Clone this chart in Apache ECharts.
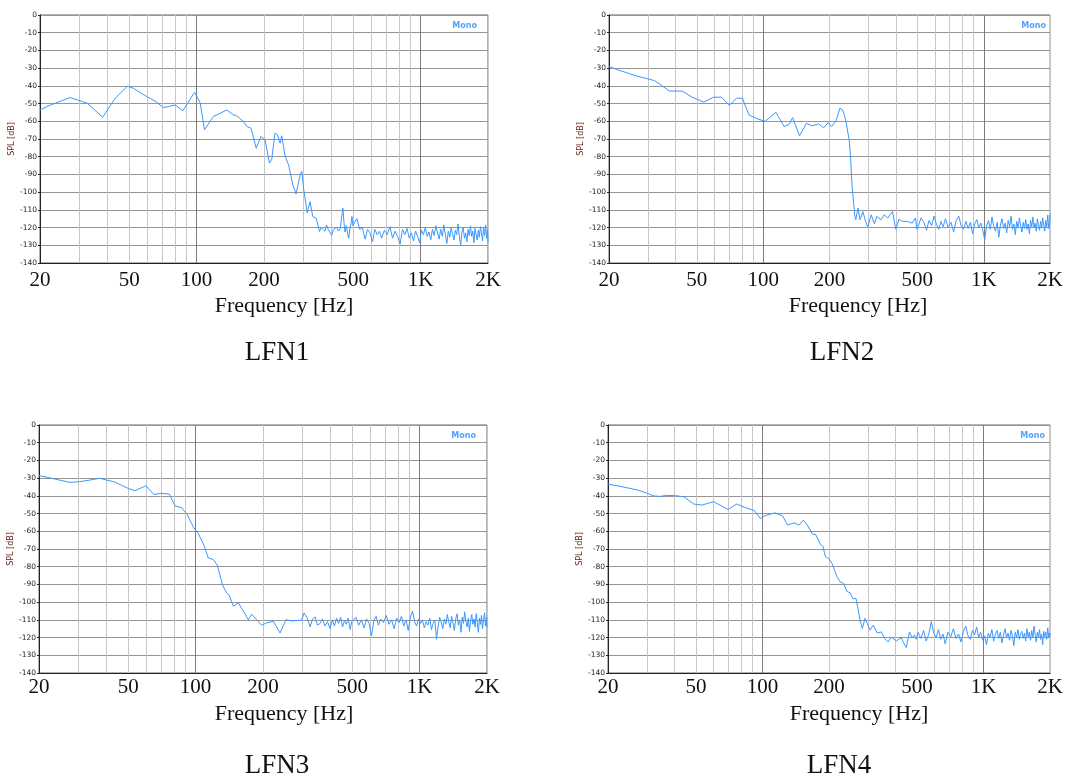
<!DOCTYPE html>
<html>
<head>
<meta charset="utf-8">
<title>LFN spectra</title>
<script src="https://cdn.jsdelivr.net/npm/echarts@6/dist/echarts.min.js"></script>
<style>
  html, body { margin: 0; padding: 0; background: #fff; }
  #main { width: 1066px; height: 778px; }
</style>
</head>
<body>
<div id="main"></div>
<script>
// [Hz, dB] up to ~500 Hz
var lfn1Head = [[20,-53.6],[21.8,-51.3],[27.2,-46.6],[32.5,-49.8],[38.1,-57.7],[43.3,-47],[49.1,-40.2],[52.3,-41.4],
  [59.9,-46],[65.9,-48.9],[71.1,-52.3],[80.2,-50.8],[86.8,-54.1],[97.9,-43.6],[103.7,-49.4],[108.5,-64.8],
  [118.9,-57.3],[127.4,-55.5],[136.4,-53.6],[146.2,-56.4],[151,-56.8],[161.9,-60.2],[168,-63],[175,-63.9],
  [184.6,-75.2],[193.8,-68.6],[202.3,-70.5],[211.5,-83.6],[216.6,-81.4],[224,-66.7],[230,-67.7],[236,-72.4],
  [240,-68.2],[248.7,-79.9],[257.5,-84.6],[269,-95.9],[278,-101.1],[290,-90.2],[295,-88.3],[301,-98.7],
  [312,-111.8],[321,-105.3],[330,-113.7],[342,-114.7],[354,-122.2],[360,-120],[367,-119.4],[374,-122],
  [380,-118.5],[387,-121],[394,-120],[401,-124.4],[408,-121],[415,-122],[422,-119.8],[430,-122],[438,-120.5],
  [445,-121],[450,-109],[455,-117],[460,-122.5],[466,-119],[472,-123],[478,-126],[484,-120],[489,-118],
  [494,-113.7],[499,-119]];
var lfn2Head = [[20,-29.1],[22,-31],[26.6,-34.4],[32.1,-37],[34.4,-39.5],[37.5,-42.9],[43,-43],[47.6,-46.4],
  [53.7,-49.2],[59.5,-46.4],[64.8,-46.4],[70.2,-51],[75.7,-47],[80.5,-47],[86.2,-56.4],[93.9,-58.6],
  [102,-60],[108.5,-57.3],[114.2,-54.9],[124.4,-63],[131,-61.7],[136,-57.9],[146.2,-68.2],[157,-61.1],
  [166.5,-62.6],[178.3,-61.5],[187.7,-63.7],[197.6,-60.7],[204.5,-63],[214,-59.6],[222.8,-52.6],[229,-53.6],
  [234.6,-57.3],[238.6,-62],[245.4,-70.5],[248.8,-80],[253,-97],[257.4,-107],[260,-113],[262.7,-115.6],
  [269,-109],[275,-115.6],[283.2,-111],[291.1,-116.5],[298,-119.7],[308.6,-112.8],[319.4,-117.9],
  [327.2,-113.7],[342.1,-115.6],[354,-112.8],[366.4,-114.7],[385.7,-110.9],[399.2,-120.9],[413,-115.2],
  [427.5,-116.5],[450,-116.5],[473.6,-117.5],[490.2,-114.6],[498,-121]];
var lfn3Head = [[20,-28.6],[22.3,-29.8],[27.4,-32.4],[30.4,-32],[33.7,-31.1],[37.3,-30.1],[43.6,-32.2],[50,-35.8],
  [53.6,-37.1],[60,-34.3],[65.1,-39.2],[70.4,-38.6],[76.3,-39],[80.9,-45.6],[86.6,-46.7],[92.1,-50.9],
  [97.6,-57.5],[102.8,-61.2],[109,-67.8],[113.9,-75],[119.9,-75.9],[125,-79.1],[132,-90.4],[137.6,-94.8],
  [141.4,-96.1],[147.4,-102.3],[155.2,-100.4],[163.4,-105],[172,-109.9],[178,-106.8],[187.4,-109.9],
  [197.2,-113],[207.6,-111.7],[222.5,-110.8],[238.3,-117.4],[253.4,-109.9],[268.7,-110.6],[297.8,-110.2],
  [305,-106.1],[315,-109],[324.5,-114],[333,-109.5],[341.7,-108.3],[350,-113],[359.7,-112],[368,-109.5],
  [378,-113.5],[388,-111],[398.8,-115],[408,-110],[417,-113.5],[426,-109],[435,-112],[444,-108.5],
  [453,-114],[462,-110.5],[471,-112.5],[480,-109],[490,-115.5],[498,-111]];
var lfn4Head = [[20,-33.4],[23.3,-34.9],[27.2,-36.7],[30.2,-38.6],[32.3,-40.1],[34.6,-40.3],[36.5,-39.7],[40.4,-39.9],
  [44,-40.5],[48.8,-44.6],[53.2,-45.2],[60,-43.3],[70,-47.7],[76.3,-44.6],[83.1,-46.5],[92.1,-48.4],
  [97.6,-52.8],[102.8,-51.1],[113.9,-49.6],[123.3,-51.4],[129.8,-56.5],[139,-55.2],[146.3,-56.5],[153,-53.7],
  [159.5,-56.5],[168,-61.6],[173.8,-61.8],[183,-67.5],[187.4,-68.4],[192.6,-74.4],[199.3,-75.4],[206.3,-78.2],
  [217.2,-85.7],[224.8,-88.6],[232.6,-89.5],[240.8,-93.9],[249.2,-94.8],[256.2,-98],[264.9,-98],[269.5,-102.7],
  [276.1,-110.2],[282.8,-114.9],[290.6,-109.2],[297.8,-112.1],[306.1,-115.8],[316.8,-113],[330.1,-117.4],
  [345.2,-116.8],[357.2,-120.6],[369.7,-122.5],[382.6,-119.7],[402.8,-121.9],[424.1,-120.2],[446.6,-125.7],
  [462.2,-116.8],[475,-120],[486.4,-118.5],[496,-121]];

// noise floor above 500 Hz, shared frequencies
var noiseFreq = [505,520,535,550,565,580,595,610,625,640,655,
  670,690,710,730,750,770,790,810,830,850,870,890,910,930,950,970,990,1010,1030,1050,1070,1090,1110,
  1130,1150,1170,1190,1210,1230,1250,1270,1290,1310,1330,1350,1370,1390,1410,1430,1450,1470,1490,1510,
  1530,1550,1570,1590,1610,1630,1650,1670,1690,1710,1730,1750,1770,1790,1810,1830,1850,1870,1890,1910,
  1930,1950,1970,1990,2000];
var lfn1Noise = [-117.5,-115,-121,-120,-126.5,-121,-123,-128,-121,-124,-122,
  -126,-121.5,-124,-119.5,-126,-122,-125,-129.5,-121,-124,
  -120.5,-126,-123,-127.5,-122,-125,-128.5,-121.5,-124,-120,
  -125,-122.5,-127,-121,-124.5,-119,-123,-126.5,-121,-125,
  -118.5,-124,-129,-122,-125.5,-120,-123.5,-127,-121.5,-124,
  -118,-125,-130,-122.5,-120,-126,-123,-128,-121,-124.5,
  -119,-125,-122,-128.5,-120.5,-124,-127,-121.5,-125.5,-119.5,
  -123,-127.5,-120,-124.5,-118.5,-126,-121,-128];
var lfn2Noise = [-119,-114.5,-117,-121.5,-116,-119,-113.5,-118,-121,-116.5,-119.5,
  -115,-120,-117,-122.5,-116,-113.5,-119,-121,-116.5,-120.5,
  -117,-123.5,-118,-115.5,-120,-117.5,-121.5,-127,-119,-116,
  -121,-114,-119.5,-122,-117,-125.5,-118.5,-115,-120.5,-117.5,
  -123,-116,-119.5,-113.5,-121,-118,-124,-116.5,-120,-114.5,
  -119,-122.5,-117,-120.5,-115.5,-121,-118,-123.5,-116,-119.5,
  -114,-120,-117.5,-122,-115,-119,-121.5,-116.5,-120,-114.5,
  -118.5,-122,-116,-119.5,-113,-120.5,-117,-112.5];
var lfn3Noise = [-112,-108.5,-113,-110,-114.5,-109.5,-112,-119,-110.5,-108,-113,
  -109.5,-111.5,-107.5,-112.5,-110,-115,-109,-111.5,-108,-113.5,
  -110,-116,-108.5,-105,-111,-113.5,-109.5,-112,-110,-114.5,
  -111,-113,-109,-115.5,-112,-110,-121,-113.5,-108.5,-111.5,
  -115,-109.5,-112.5,-107,-111,-114.5,-108,-112,-116,-109.5,
  -106.5,-113,-110,-117,-108.5,-112,-105.5,-111,-114,-109,
  -116.5,-110.5,-107,-112.5,-109.5,-114,-106.5,-111.5,-117,-109,
  -112.5,-107.5,-115,-110,-106,-113.5,-108.5,-114];
var lfn4Noise = [-117,-120.5,-116,-122,-118,-111,-117.5,-120,-115.5,-121,-118,
  -123.5,-117,-119.5,-115,-120.5,-118,-122.5,-116.5,-113.5,-119,
  -121,-116,-118.5,-114,-120,-117,-121.5,-119,-124,-117.5,
  -120,-115.5,-122,-118,-116,-120.5,-117,-123,-118.5,-115,
  -120,-117.5,-121.5,-116,-119,-124.5,-117,-120,-115.5,-121,
  -118,-116.5,-120.5,-117.5,-122,-115,-119.5,-117,-121.5,-116,
  -120,-113.5,-118.5,-122.5,-117,-120,-115.5,-121,-118,-124,
  -116.5,-119.5,-117,-121,-114.5,-120,-117.5,-119];

var titles = ['LFN1', 'LFN2', 'LFN3', 'LFN4'];
var heads = [lfn1Head, lfn2Head, lfn3Head, lfn4Head];
var noises = [lfn1Noise, lfn2Noise, lfn3Noise, lfn4Noise];

var labelFreqs = [20, 50, 100, 200, 500, 1000, 2000];
var labelTexts = ['20', '50', '100', '200', '500', '1K', '2K'];
var gridFreqs = [20, 30, 40, 50, 60, 70, 80, 90, 100, 200, 300, 400, 500, 600, 700, 800, 900, 1000, 2000];

// layout of the four plots
var boxes = [
  { left: 40, top: 15, tickY: 7, xlabelX: 284, xlabelY: 306, titleX: 277, titleY: 353 },
  { left: 609, top: 15, tickY: 7, xlabelX: 858, xlabelY: 306, titleX: 842, titleY: 353 },
  { left: 39, top: 425, tickY: 4, xlabelX: 284, xlabelY: 714, titleX: 277, titleY: 766 },
  { left: 608, top: 425, tickY: 4, xlabelX: 859, xlabelY: 714, titleX: 839, titleY: 766 }
];
var plotW = 448, plotH = 248;
var serif = '"Liberation Serif", "DejaVu Serif", serif';

var lg = function (f) { return Math.log10(f); };
var vColors = gridFreqs.map(function (f) {
  return (f === 100 || f === 1000) ? '#7c7c7c' : '#c6c6c6';
});

var chart = echarts.init(document.getElementById('main'));
var grids = [], xAxes = [], yAxes = [], series = [], graphics = [];

boxes.forEach(function (b, i) {
  grids.push({
    left: b.left, top: b.top, width: plotW, height: plotH,
    show: true, borderColor: '#666', borderWidth: 1, backgroundColor: '#fff'
  });
  xAxes.push({
    gridIndex: i,
    type: 'value',
    min: lg(20),
    max: lg(2000),
    axisLine: { show: true, onZero: false, lineStyle: { color: '#222', width: 1 } },
    axisTick: { show: false, customValues: gridFreqs.map(lg) },
    axisLabel: {
      customValues: labelFreqs.map(lg),
      margin: b.tickY,
      fontFamily: serif,
      fontSize: 21,
      color: '#111',
      formatter: function (v) {
        for (var k = 0; k < labelFreqs.length; k++) {
          if (Math.abs(lg(labelFreqs[k]) - v) < 1e-6) return labelTexts[k];
        }
        return '';
      }
    },
    splitLine: { show: true, lineStyle: { color: vColors, width: 1 } }
  });
  yAxes.push({
    gridIndex: i,
    type: 'value',
    min: -140,
    max: 0,
    interval: 10,
    name: 'SPL [dB]',
    nameLocation: 'middle',
    nameRotate: 90,
    nameGap: 16,
    nameTextStyle: { color: '#6a2418', fontSize: 8, fontFamily: '"DejaVu Sans", sans-serif' },
    axisLine: { show: true, lineStyle: { color: '#222', width: 1 } },
    axisTick: { show: true, length: 2, lineStyle: { color: '#222' } },
    axisLabel: { margin: 3, fontSize: 7.5, color: '#222', fontFamily: '"DejaVu Sans", sans-serif' },
    splitLine: { show: true, lineStyle: { color: '#959595', width: 1 } }
  });
  var data = heads[i].map(function (p) { return [lg(p[0]), p[1]]; })
    .concat(noiseFreq.map(function (f, k) { return [lg(f), noises[i][k]]; }));
  series.push({
    name: titles[i],
    type: 'line',
    xAxisIndex: i,
    yAxisIndex: i,
    data: data,
    showSymbol: false,
    symbol: 'none',
    lineStyle: { color: '#3a98ff', width: 1 },
    z: 5
  });
  graphics.push({
    type: 'text', x: b.xlabelX, y: b.xlabelY,
    style: { text: 'Frequency [Hz]', font: '22px ' + serif, fill: '#111', textAlign: 'center', textVerticalAlign: 'middle' }
  });
  graphics.push({
    type: 'text', x: b.titleX, y: b.titleY,
    style: { text: titles[i], font: '27px ' + serif, fill: '#111', textAlign: 'center', textVerticalAlign: 'middle' }
  });
  graphics.push({
    type: 'text', x: b.left + plotW - 11, y: b.top + 11,
    style: { text: 'Mono', font: 'bold 8px "DejaVu Sans", sans-serif', fill: '#4ea5ff', textAlign: 'right', textVerticalAlign: 'middle' }
  });
});

chart.setOption({
  animation: false,
  backgroundColor: '#fff',
  grid: grids,
  xAxis: xAxes,
  yAxis: yAxes,
  series: series,
  graphic: graphics
});
</script>
</body>
</html>
